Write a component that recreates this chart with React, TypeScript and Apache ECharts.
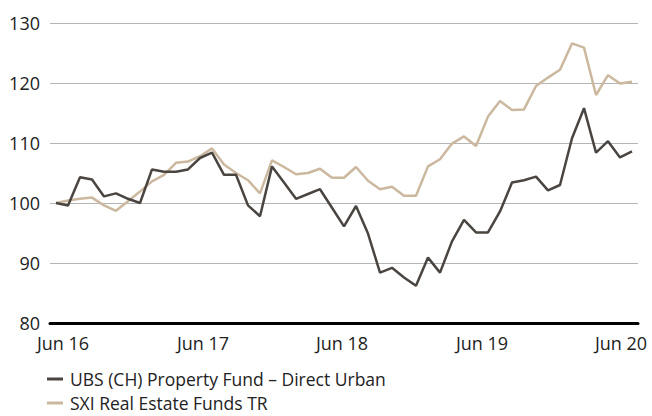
import React, { useEffect, useRef } from "react";
import * as echarts from "echarts";

const monthNames = ["Jun", "Jul", "Aug", "Sep", "Oct", "Nov", "Dec", "Jan", "Feb", "Mar", "Apr", "May"];
const startYears = [16, 17, 18, 19];

const categories: string[] = [];
startYears.forEach((y) => {
  monthNames.forEach((m, i) => {
    const yy = i < 7 ? y : y + 1;
    categories.push(`${m} ${yy}`);
  });
});
categories.push("Jun 20");

const seriesNames = ["UBS (CH) Property Fund – Direct Urban", "SXI Real Estate Funds TR"];

const ubsValues = [
  100.0, 99.6, 104.3, 103.9, 101.1, 101.6, 100.7, 100.0, 105.6, 105.2, 105.2, 105.6,
  107.5, 108.4, 104.7, 104.7, 99.6, 97.8, 106.1, 103.4, 100.7, 101.5, 102.3, 99.2,
  96.1, 99.5, 94.9, 88.4, 89.2, 87.6, 86.2, 90.9, 88.4, 93.6, 97.2, 95.1,
  95.1, 98.6, 103.4, 103.8, 104.4, 102.1, 103.0, 110.8, 115.8, 108.4, 110.3, 107.6,
  108.6,
];

const sxiValues = [
  100.0, 100.4, 100.7, 100.9, 99.6, 98.7, 100.3, 101.9, 103.6, 104.7, 106.7, 106.9,
  107.8, 109.1, 106.4, 105.0, 103.8, 101.6, 107.1, 106.0, 104.8, 105.0, 105.7, 104.2,
  104.2, 106.0, 103.7, 102.3, 102.7, 101.2, 101.2, 106.1, 107.3, 109.9, 111.1, 109.5,
  114.4, 117.0, 115.5, 115.6, 119.5, 120.9, 122.2, 126.6, 125.9, 118.0, 121.3, 119.9,
  120.2,
];

const yMin = 80;
const yMax = 130;
const yInterval = 10;

const colors = { ubs: "#4a4540", sxi: "#cbb89f" };
const FONT = "'Open Sans', 'Noto Sans', sans-serif";

// horizontal nudges (px) of the five x labels relative to their data point
const labelShift = [7, 3, -2, -6, -11];

export default function App() {
  const ref = useRef<HTMLDivElement>(null);
  useEffect(() => {
    if (!ref.current) return;
    const chart = echarts.init(ref.current, null, { renderer: "svg" });
    const rich: Record<string, any> = {};
    labelShift.forEach((s, k) => {
      rich["l" + k] = {
        fontSize: 18,
        color: "#222",
        fontFamily: FONT,
        padding: s >= 0 ? [0, 0, 0, 2 * s] : [0, -2 * s, 0, 0],
      };
    });
    chart.setOption({
      animation: false,
      textStyle: { fontFamily: FONT },
      grid: { left: 50, right: 14, top: 23, bottom: 93, containLabel: false },
      xAxis: {
        type: "category",
        data: categories,
        boundaryGap: true,
        axisLine: { show: true, lineStyle: { color: "#000", width: 3 } },
        axisTick: { show: false },
        splitLine: { show: false },
        axisLabel: {
          interval: 11,
          fontSize: 18,
          color: "#222",
          margin: 11,
          fontFamily: FONT,
          formatter: (v: string, idx: number) => `{l${Math.round(idx / 12)}|${v}}`,
          rich,
        },
      },
      yAxis: {
        type: "value",
        min: yMin,
        max: yMax,
        interval: yInterval,
        axisLine: { show: false },
        axisTick: { show: false },
        splitLine: { show: true, lineStyle: { color: "#b5b5b5", width: 1 } },
        axisLabel: { fontSize: 18, color: "#222", margin: 10, fontFamily: FONT },
      },
      legend: {
        orient: "vertical",
        left: 47,
        top: 370,
        height: 100,
        padding: 0,
        itemGap: 6,
        itemWidth: 16,
        itemHeight: 3,
        icon: "rect",
        data: seriesNames,
        textStyle: { fontSize: 17.5, lineHeight: 18, color: "#222", fontFamily: FONT, padding: [0, 0, 0, 2] },
      },
      series: [
        {
          name: seriesNames[1],
          type: "line",
          data: sxiValues,
          symbol: "none",
          lineStyle: { color: colors.sxi, width: 2.5 },
          itemStyle: { color: colors.sxi },
          z: 2,
        },
        {
          name: seriesNames[0],
          type: "line",
          data: ubsValues,
          symbol: "none",
          lineStyle: { color: colors.ubs, width: 2.5 },
          itemStyle: { color: colors.ubs },
          z: 3,
        },
      ],
    });
    return () => chart.dispose();
  }, []);
  return (
    <div
      ref={ref}
      style={{ position: "fixed", left: 0, top: 0, width: 652, height: 416, background: "#fff" }}
    />
  );
}
